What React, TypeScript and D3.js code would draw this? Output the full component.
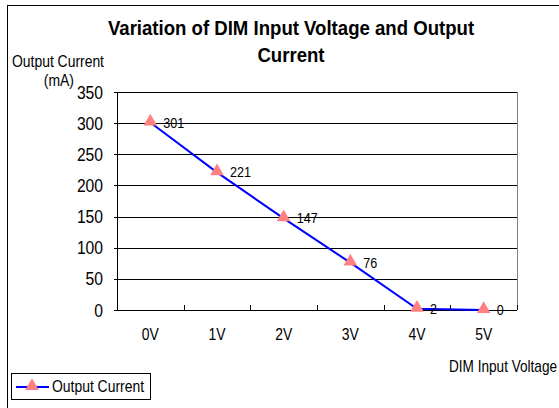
import React from "react";
import * as d3 from "d3";

const voltages = ["0V", "1V", "2V", "3V", "4V", "5V"];
const currents = [301, 221, 147, 76, 2, 0];
const yTicks = [0, 50, 100, 150, 200, 250, 300, 350];

const W = 559;
const H = 408;
const FONT = "'Liberation Sans', Arial, sans-serif";

type TProps = {
  x: number;
  y: number;
  size: number;
  sx?: number;
  anchor?: "start" | "middle" | "end";
  bold?: boolean;
  children: React.ReactNode;
};

// narrow-looking text: squeeze horizontally like the original rendering
const T: React.FC<TProps> = ({ x, y, size, sx = 0.87, anchor = "start", bold, children }) => (
  <text
    transform={`translate(${x},${y}) scale(${sx},1)`}
    textAnchor={anchor}
    fontSize={size}
    fontWeight={bold ? "bold" : "normal"}
  >
    {children}
  </text>
);

const App: React.FC = () => {
  const x = d3.scaleBand<string>().domain(voltages).range([117, 517]).padding(0);
  const y = d3.scaleLinear().domain([0, 350]).range([310, 92]);
  const cx = (v: string) => (x(v) ?? 0) + x.bandwidth() / 2;

  const line = d3
    .line<number>()
    .x((_, i) => cx(voltages[i]))
    .y((d) => y(d));

  const tri = d3.symbol().type(d3.symbolTriangle).size(80)();

  return (
    <svg
      width={W}
      height={H}
      style={{ position: "absolute", left: 0, top: 0, background: "#fff" }}
      fontFamily={FONT}
    >
      {/* chart frame */}
      <rect x={7.5} y={5.5} width={W} height={H} fill="#fff" stroke="#000" strokeWidth={1} />

      {/* title */}
      <T x={291} y={35} size={20} sx={0.93} anchor="middle" bold>
        Variation of DIM Input Voltage and Output
      </T>
      <T x={291} y={62} size={20} sx={0.93} anchor="middle" bold>
        Current
      </T>

      {/* y axis title */}
      <T x={104} y={67} size={16} anchor="end">
        Output Current
      </T>
      <T x={74} y={86} size={16} anchor="end">
        (mA)
      </T>

      {/* grid lines */}
      {yTicks.map((t) => (
        <line key={t} x1={114} x2={517} y1={Math.round(y(t)) + 0.5} y2={Math.round(y(t)) + 0.5} stroke="#000" />
      ))}
      {/* plot border right */}
      <line x1={517.5} x2={517.5} y1={92} y2={310} stroke="#808080" />
      {/* y axis */}
      <line x1={117.5} x2={117.5} y1={92} y2={311} stroke="#000" />

      {/* y tick labels */}
      {yTicks.map((t) => (
        <T key={t} x={103} y={y(t) + 6.5} size={18} anchor="end">
          {t}
        </T>
      ))}

      {/* x ticks */}
      {voltages.map((v) => (
        <line key={v} x1={Math.round(x(v) ?? 0) + 0.5} x2={Math.round(x(v) ?? 0) + 0.5} y1={305} y2={310} stroke="#000" />
      ))}
      <line x1={517.5} x2={517.5} y1={305} y2={310} stroke="#000" />

      {/* x tick labels */}
      {voltages.map((v) => (
        <T key={v} x={cx(v)} y={340} size={16} anchor="middle">
          {v}
        </T>
      ))}

      {/* x axis title */}
      <T x={557} y={372} size={16} sx={0.85} anchor="end">
        DIM Input Voltage
      </T>

      {/* series */}
      <path d={line(currents) ?? ""} fill="none" stroke="#0000ff" strokeWidth={2} />
      {currents.map((c, i) => (
        <path key={i} d={tri ?? ""} transform={`translate(${cx(voltages[i])},${y(c) - 1})`} fill="#ff8080" />
      ))}
      {currents.map((c, i) => (
        <T key={i} x={cx(voltages[i]) + 13} y={y(c) + 5} size={15} sx={0.84}>
          {c}
        </T>
      ))}

      {/* legend */}
      <rect x={11.5} y={373.5} width={139} height={26} fill="#fff" stroke="#000" />
      <line x1={16} x2={49} y1={387} y2={387} stroke="#0000ff" strokeWidth={2} />
      <path d={tri ?? ""} transform="translate(32,386)" fill="#ff8080" />
      <T x={52} y={392} size={16}>
        Output Current
      </T>
    </svg>
  );
};

export default App;
